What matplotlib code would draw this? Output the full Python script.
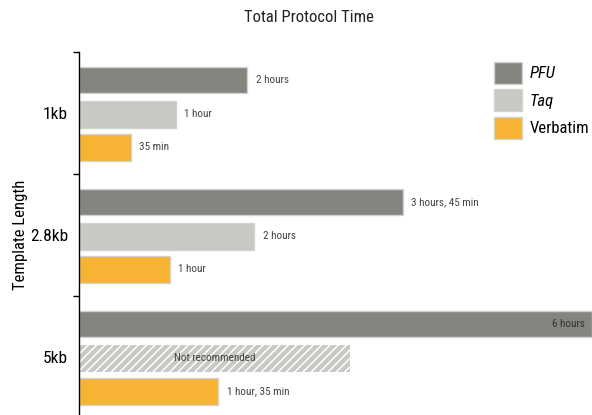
import matplotlib
matplotlib.use("Agg")
import matplotlib.pyplot as plt
from matplotlib.patches import Patch
import numpy as np

plt.rcParams['font.family'] = ['Roboto Condensed', 'DejaVu Sans']
plt.rcParams['hatch.linewidth'] = 1.1

# data (bar lengths, in hours)
templates = ['1kb', '2.8kb', '5kb']
pfu = [1.97, 3.79, 6.0]
taq = [1.13, 2.05, 3.17]
verbatim = [0.61, 1.06, 1.63]
pfu_labels = ['2 hours', '3 hours, 45 min', '6 hours']
taq_labels = ['1 hour', '2 hours', 'Not recommended']
verbatim_labels = ['35 min', '1 hour', '1 hour, 35 min']
taq_ok = [True, True, False]

c_pfu = '#86847e'
c_taq = '#c9c8c4'
c_verb = '#f7b334'
edge = '#d2d2d0'
txt = '#444444'

fig = plt.figure(figsize=(5.92, 4.15), dpi=100)
ax = fig.add_axes([79/592, -3/415, 513/592, 366/415])

groups = np.arange(len(templates))
h = 0.22
y_pfu = groups + 0.23
y_taq = groups + 0.51
y_verb = groups + 0.78

ax.barh(y_pfu, pfu, height=h, color=c_pfu, edgecolor=edge, linewidth=1)
for i in groups:
    if taq_ok[i]:
        ax.barh(y_taq[i], taq[i], height=h, color=c_taq, edgecolor=edge, linewidth=1)
    else:
        ax.barh(y_taq[i], taq[i], height=h, color=c_taq, edgecolor='white',
                linewidth=0, hatch='////')
ax.barh(y_verb, verbatim, height=h, color=c_verb, edgecolor=edge, linewidth=1)

# value labels
for i in groups:
    if pfu[i] >= 5.9:
        ax.annotate(pfu_labels[i], (pfu[i], y_pfu[i]), xytext=(-5, 0),
                    textcoords='offset points', ha='right', va='center',
                    fontsize=8, color='#333333')
    else:
        ax.annotate(pfu_labels[i], (pfu[i], y_pfu[i]), xytext=(6, 0),
                    textcoords='offset points', ha='left', va='center',
                    fontsize=8, color=txt)
    if taq_ok[i]:
        ax.annotate(taq_labels[i], (taq[i], y_taq[i]), xytext=(6, 0),
                    textcoords='offset points', ha='left', va='center',
                    fontsize=8, color=txt)
    else:
        ax.text(taq[i] / 2, y_taq[i], taq_labels[i], ha='center', va='center',
                fontsize=8, color=txt)
    ax.annotate(verbatim_labels[i], (verbatim[i], y_verb[i]), xytext=(6, 0),
                textcoords='offset points', ha='left', va='center',
                fontsize=8, color=txt)

ax.set_xlim(0, 6)
ax.set_ylim(3, 0)
for s in ['top', 'right', 'bottom']:
    ax.spines[s].set_visible(False)
ax.spines['left'].set_linewidth(1)
ax.set_xticks([])
ax.set_yticks([0, 1, 2, 3])
ax.set_yticklabels([])
ax.tick_params(axis='y', which='major', length=4, width=1)
ax.set_yticks(groups + 0.5, templates, minor=True)
ax.tick_params(axis='y', which='minor', length=0, pad=8, labelsize=12.5)

ax.set_ylabel('Template Length', fontsize=12)
ax.yaxis.set_label_coords(-0.1, 0.5)

fig.text(309/592, 1 - 18/415, 'Total Protocol Time', ha='center', va='center',
         fontsize=12, color='#222222')

handles = [Patch(facecolor=c_pfu, edgecolor=edge),
           Patch(facecolor=c_taq, edgecolor=edge),
           Patch(facecolor=c_verb, edgecolor=edge)]
leg = fig.legend(handles, ['PFU', 'Taq', 'Verbatim'], loc='upper left',
                 bbox_to_anchor=(494/592, 1 - 62/415), frameon=False,
                 fontsize=12, handlelength=1.65, handleheight=1.65,
                 handletextpad=0.5, labelspacing=0.32, borderpad=0,
                 borderaxespad=0)
for t in leg.get_texts()[:2]:
    t.set_style('italic')

fig.savefig('out.png', dpi=100)
